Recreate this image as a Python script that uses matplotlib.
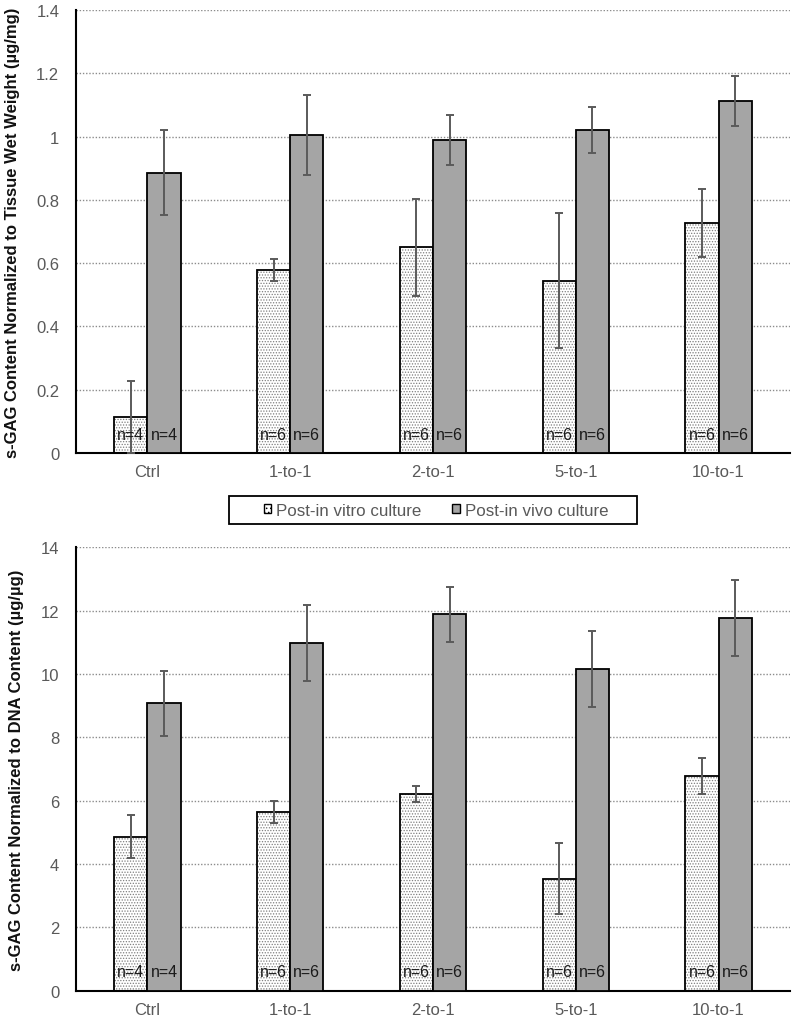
import numpy as np
import matplotlib
matplotlib.use("Agg")
import matplotlib.pyplot as plt
from matplotlib.patches import Patch, Rectangle

plt.rcParams['font.family'] = ['Liberation Sans', 'DejaVu Sans']
plt.rcParams['hatch.linewidth'] = 0.6

categories = ["Ctrl", "1-to-1", "2-to-1", "5-to-1", "10-to-1"]
series_names = ["Post-in vitro culture", "Post-in vivo culture"]

ww_vitro = [0.113, 0.579, 0.650, 0.545, 0.727]
ww_vitro_err = [0.114, 0.034, 0.154, 0.213, 0.107]
ww_vivo = [0.886, 1.004, 0.989, 1.022, 1.113]
ww_vivo_err = [0.134, 0.126, 0.078, 0.073, 0.078]

dna_vitro = [4.86, 5.64, 6.21, 3.53, 6.78]
dna_vitro_err = [0.68, 0.35, 0.26, 1.12, 0.56]
dna_vivo = [9.07, 10.98, 11.88, 10.16, 11.76]
dna_vivo_err = [1.03, 1.21, 0.88, 1.20, 1.20]

n_vitro = ["n=4", "n=6", "n=6", "n=6", "n=6"]
n_vivo = ["n=4", "n=6", "n=6", "n=6", "n=6"]

ylabels = ["s-GAG Content Normalized to Tissue Wet Weight (µg/mg)",
           "s-GAG Content Normalized to DNA Content (µg/µg)"]
yticks_top = [0, 0.2, 0.4, 0.6, 0.8, 1, 1.2, 1.4]
yticks_bot = [0, 2, 4, 6, 8, 10, 12, 14]

GRAY_TXT = "#595959"
VIVO_COLOR = "#a5a5a5"
ERR_COLOR = "#5a5a5a"

fig = plt.figure(figsize=(7.95, 10.2), dpi=100)
ax1 = fig.add_axes([0.0956, 0.5549, 0.8981, 0.4343])
ax2 = fig.add_axes([0.0956, 0.0277, 0.8981, 0.4347])

x = np.arange(len(categories))
w = 0.233

def draw(ax, vitro, vitro_err, vivo, vivo_err, ylabel, yticks, ymax):
    ax.bar(x - w/2, vitro, w, color="white", edgecolor="#7f7f7f", hatch="......", linewidth=0, zorder=2)
    ax.bar(x - w/2, vitro, w, fill=False, edgecolor="black", linewidth=1.3, zorder=3)
    ax.bar(x + w/2, vivo, w, color=VIVO_COLOR, edgecolor="black", linewidth=1.3, zorder=3)
    ax.errorbar(x - w/2, vitro, yerr=vitro_err, fmt="none", ecolor=ERR_COLOR, elinewidth=1.4, capsize=2.7, capthick=1.4, zorder=4)
    ax.errorbar(x + w/2, vivo, yerr=vivo_err, fmt="none", ecolor=ERR_COLOR, elinewidth=1.4, capsize=2.7, capthick=1.4, zorder=4)
    for i in range(len(categories)):
        ax.annotate(n_vitro[i], xy=(x[i] - w/2, 0), xytext=(0, 19), textcoords="offset pixels",
                    ha="center", va="center", fontsize=11.5, color="#1a1a1a", zorder=5)
        ax.annotate(n_vivo[i], xy=(x[i] + w/2, 0), xytext=(0, 19), textcoords="offset pixels",
                    ha="center", va="center", fontsize=11.5, color="#1a1a1a", zorder=5)
    ax.set_xlim(-0.5, len(categories) - 0.5)
    ax.set_ylim(0, ymax)
    ax.set_yticks(yticks)
    ax.set_yticklabels([f"{t:g}" for t in yticks])
    ax.set_xticks(x)
    ax.set_xticklabels(categories)
    ax.tick_params(axis="both", length=0, labelsize=12, colors=GRAY_TXT)
    ax.tick_params(axis="y", pad=12)
    ax.tick_params(axis="x", pad=8)
    ax.yaxis.grid(True, linestyle=(0, (1, 1.3)), color="#8c8c8c", linewidth=1.0, zorder=0)
    ax.set_axisbelow(True)
    for s in ["top", "right"]:
        ax.spines[s].set_visible(False)
    for s in ["left", "bottom"]:
        ax.spines[s].set_color("black")
        ax.spines[s].set_linewidth(1.5)
    ax.set_ylabel(ylabel, fontsize=12, fontweight="bold", color="#111111", labelpad=12)

draw(ax1, ww_vitro, ww_vitro_err, ww_vivo, ww_vivo_err, ylabels[0], yticks_top, 1.4)
draw(ax2, dna_vitro, dna_vitro_err, dna_vivo, dna_vivo_err, ylabels[1], yticks_bot, 14)

# legend box (frame drawn separately to match wide padding)
fig.patches.append(Rectangle((229/795, 1 - 525/1020), (637 - 229)/795, 28/1020,
                             transform=fig.transFigure, fill=False, edgecolor="black",
                             linewidth=1.3, zorder=1))
handles = [Patch(facecolor="white", edgecolor="black", hatch="....", linewidth=1.0),
           Patch(facecolor=VIVO_COLOR, edgecolor="black", linewidth=1.0)]
leg = fig.legend(handles, series_names, loc="center", bbox_to_anchor=(436/795, 1 - 511/1020),
                 ncol=2, fontsize=12.2, frameon=False, handlelength=0.45,
                 handleheight=0.45, handletextpad=0.3, columnspacing=1.8,
                 borderpad=0.2)
for t in leg.get_texts():
    t.set_color(GRAY_TXT)

fig.savefig("out.png", dpi=100)
